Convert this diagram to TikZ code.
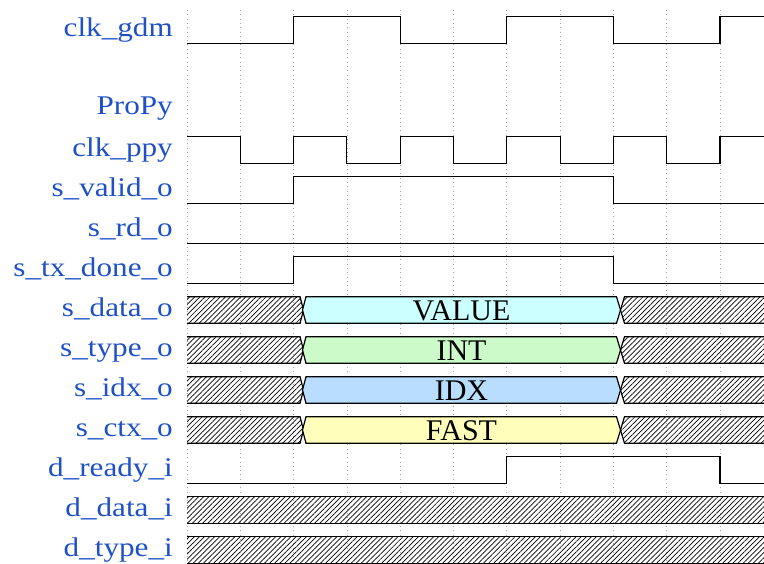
\documentclass[tikz,border=0pt]{standalone}
\usepackage{fontspec}
\setmainfont{Liberation Serif}
\newfontfamily\lblfont[FakeStretch=1.155]{Liberation Serif}
\usetikzlibrary{patterns.meta}
\definecolor{lblblue}{RGB}{30,80,200}
\definecolor{fcyan}{RGB}{204,255,255}
\definecolor{fgreen}{RGB}{204,250,200}
\definecolor{fblue}{RGB}{184,221,255}
\definecolor{fyellow}{RGB}{255,255,187}
\tikzset{
  wave/.style={line width=1.1pt, line join=miter},
  gridline/.style={gray!70, line width=0.7pt, dash pattern=on 1pt off 3.3pt},
  hatch/.style={pattern={Lines[angle=45,distance=3.6pt,line width=0.7pt]}, pattern color=black},
  busline/.style={line width=1.2pt, line join=miter},
  lbl/.style={anchor=base east, inner sep=0pt, text=lblblue, font=\lblfont\fontsize{27}{31}\selectfont},
  bustext/.style={inner sep=0pt, font=\fontsize{30}{34}\selectfont}
}
% #1 row centre, #2 fill colour, #3 text, #4 node name
\newcommand\busrow[4]{%
  \fill[hatch] (187,#1-13.3) -- (300,#1-13.3) -- (303.5,#1) -- (300,#1+13.3) -- (187,#1+13.3) -- cycle;
  \draw[busline] (187,#1-13.3) -- (300,#1-13.3) -- (303.5,#1) -- (300,#1+13.3) -- (187,#1+13.3);
  \draw[busline, fill=#2] (306,#1-13.3) -- (616.5,#1-13.3) -- (620.5,#1) -- (616.5,#1+13.3) -- (306,#1+13.3) -- (302.5,#1) -- cycle;
  \node[bustext] (#4) at (461.5,#1+0.5) {#3};
  \fill[hatch] (764,#1-13.3) -- (624.5,#1-13.3) -- (620.5,#1) -- (624.5,#1+13.3) -- (764,#1+13.3) -- cycle;
  \draw[busline] (764,#1-13.3) -- (624.5,#1-13.3) -- (620.5,#1) -- (624.5,#1+13.3) -- (764,#1+13.3);
}
\newcommand\hatchrow[1]{%
  \fill[hatch] (187,#1-13.3) rectangle (764,#1+13.3);
  \draw[busline] (187,#1-13.3) -- (764,#1-13.3) (187,#1+13.3) -- (764,#1+13.3);
}
\begin{document}
\begin{tikzpicture}[x=1pt,y=-1pt]
\useasboundingbox (0,0) rectangle (764,563);
% grid
\foreach \k in {0,...,10} \draw[gridline] (187+53.3*\k,10) -- (187+53.3*\k,563);
% labels
\node[lbl] (n1) at (173,36.5) {clk\_gdm};
\node[lbl] (n2) at (173,114) {ProPy};
\node[lbl] (n3) at (173,156.5) {clk\_ppy};
\node[lbl] (n4) at (173,196.5) {s\_valid\_o};
\node[lbl] (n5) at (173,236.5) {s\_rd\_o};
\node[lbl] (n6) at (173,276.5) {s\_tx\_done\_o};
\node[lbl] (n7) at (173,316.5) {s\_data\_o};
\node[lbl] (n8) at (173,356.5) {s\_type\_o};
\node[lbl] (n9) at (173,396.5) {s\_idx\_o};
\node[lbl] (n10) at (173,436.5) {s\_ctx\_o};
\node[lbl] (n11) at (173,476.5) {d\_ready\_i};
\node[lbl] (n12) at (173,516.5) {d\_data\_i};
\node[lbl] (n13) at (173,556.5) {d\_type\_i};
% clk_gdm
\draw[wave] (187,43.3) -- (293.6,43.3) -- (293.6,16.7) -- (400.2,16.7) -- (400.2,43.3) -- (506.8,43.3) -- (506.8,16.7) -- (613.4,16.7) -- (613.4,43.3) -- (720,43.3) -- (720,16.7) -- (764,16.7);
% clk_ppy
\draw[wave] (187,136.7) -- (240.3,136.7) -- (240.3,163.3) -- (293.6,163.3) -- (293.6,136.7) -- (346.9,136.7) -- (346.9,163.3) -- (400.2,163.3) -- (400.2,136.7) -- (453.5,136.7) -- (453.5,163.3) -- (506.8,163.3) -- (506.8,136.7) -- (560.1,136.7) -- (560.1,163.3) -- (613.4,163.3) -- (613.4,136.7) -- (666.7,136.7) -- (666.7,163.3) -- (720,163.3) -- (720,136.7) -- (764,136.7);
% s_valid_o
\draw[wave] (187,203.3) -- (293.6,203.3) -- (293.6,176.7) -- (613.4,176.7) -- (613.4,203.3) -- (764,203.3);
% s_rd_o
\draw[wave] (187,243.3) -- (764,243.3);
% s_tx_done_o
\draw[wave] (187,283.3) -- (293.6,283.3) -- (293.6,256.7) -- (613.4,256.7) -- (613.4,283.3) -- (764,283.3);
% buses
\busrow{310}{fcyan}{VALUE}{v1}
\busrow{350}{fgreen}{INT}{v2}
\busrow{390}{fblue}{IDX}{v3}
\busrow{430}{fyellow}{FAST}{v4}
% d_ready_i
\draw[wave] (187,483.3) -- (506.8,483.3) -- (506.8,456.7) -- (720,456.7) -- (720,483.3) -- (764,483.3);
\hatchrow{510}
\hatchrow{550}
\end{tikzpicture}
\end{document}
